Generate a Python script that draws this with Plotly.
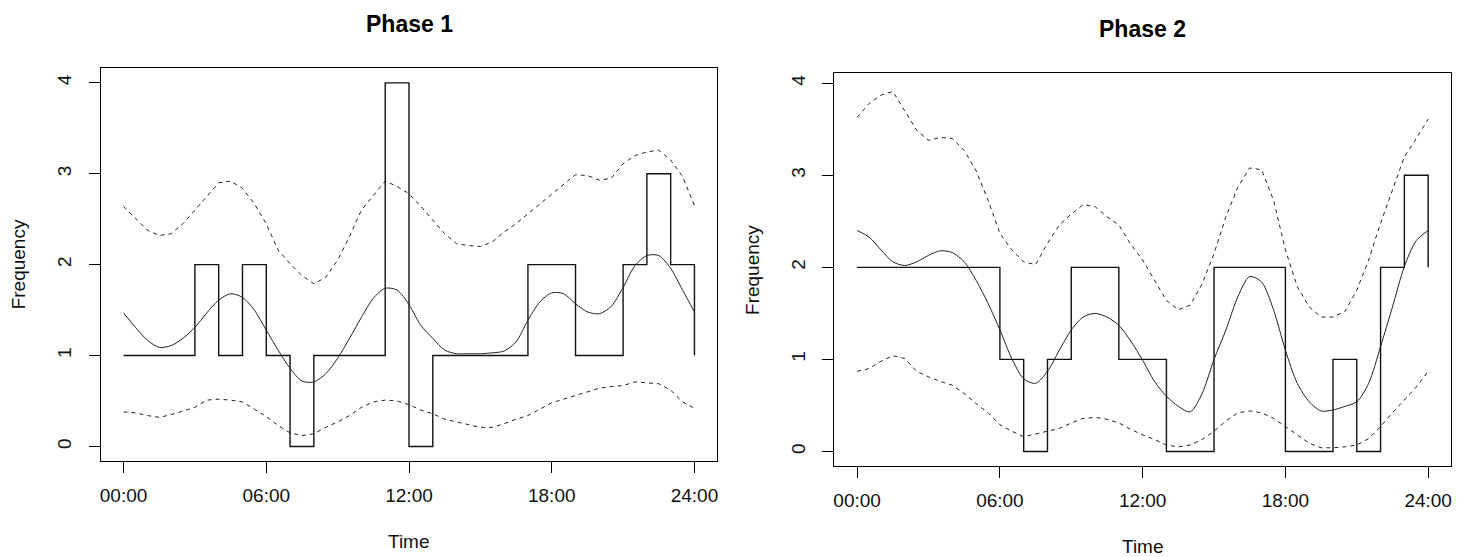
import plotly.graph_objects as go

# ---------------- data ----------------
hours_grid = [i * 0.5 for i in range(49)]          # 0, 0.5, ..., 24
bin_edges = list(range(25))                        # hourly step positions 0..24

tick_vals = [0, 6, 12, 18, 24]
tick_text = ["00:00", "06:00", "12:00", "18:00", "24:00"]
y_ticks = [0, 1, 2, 3, 4]

# Phase 1: hourly counts (last value repeats first hour, step plot)
p1_counts = [1, 1, 1, 2, 1, 2, 1, 0, 1, 1, 1, 4, 0, 1, 1, 1, 1, 2, 2, 1, 1, 2, 3, 2, 1]
p1_smooth = [1.47, 1.31, 1.17, 1.09, 1.11, 1.19, 1.31, 1.47, 1.61, 1.68, 1.64, 1.50,
             1.28, 1.06, 0.86, 0.72, 0.71, 0.80, 0.97, 1.19, 1.42, 1.63, 1.74, 1.72,
             1.56, 1.33, 1.19, 1.06, 1.02, 1.02, 1.02, 1.03, 1.05, 1.15, 1.39, 1.59,
             1.69, 1.68, 1.57, 1.48, 1.46, 1.54, 1.75, 1.99, 2.10, 2.10, 1.96, 1.72, 1.48]
p1_upper = [2.64, 2.51, 2.38, 2.32, 2.34, 2.45, 2.60, 2.76, 2.90, 2.92, 2.84, 2.67,
            2.45, 2.16, 2.01, 1.88, 1.79, 1.86, 2.05, 2.31, 2.60, 2.76, 2.92, 2.86,
            2.78, 2.64, 2.49, 2.34, 2.23, 2.21, 2.20, 2.25, 2.36, 2.45, 2.56, 2.67,
            2.78, 2.89, 2.99, 2.98, 2.93, 2.95, 3.11, 3.20, 3.24, 3.26, 3.15, 2.97, 2.65]
p1_lower = [0.38, 0.37, 0.34, 0.32, 0.35, 0.39, 0.43, 0.51, 0.52, 0.51, 0.49, 0.41,
            0.33, 0.23, 0.15, 0.12, 0.14, 0.21, 0.27, 0.34, 0.43, 0.49, 0.51, 0.50,
            0.46, 0.40, 0.36, 0.30, 0.27, 0.24, 0.21, 0.21, 0.25, 0.30, 0.34, 0.41,
            0.48, 0.52, 0.56, 0.60, 0.64, 0.66, 0.67, 0.71, 0.70, 0.69, 0.62, 0.49, 0.42]

# Phase 2
p2_counts = [2, 2, 2, 2, 2, 2, 1, 0, 1, 2, 2, 1, 1, 0, 0, 2, 2, 2, 0, 0, 1, 0, 2, 3, 2]
p2_smooth = [2.40, 2.33, 2.19, 2.06, 2.02, 2.06, 2.13, 2.18, 2.16, 2.06, 1.86, 1.61,
             1.32, 1.01, 0.79, 0.74, 0.87, 1.10, 1.32, 1.46, 1.50, 1.46, 1.37, 1.20,
             0.99, 0.76, 0.60, 0.49, 0.43, 0.63, 1.00, 1.32, 1.68, 1.90, 1.84, 1.54,
             1.10, 0.74, 0.54, 0.44, 0.45, 0.49, 0.54, 0.74, 1.14, 1.57, 2.01, 2.29, 2.40]
p2_upper = [3.63, 3.78, 3.87, 3.91, 3.70, 3.49, 3.38, 3.41, 3.40, 3.27, 3.05, 2.73,
            2.37, 2.19, 2.06, 2.03, 2.26, 2.46, 2.58, 2.68, 2.66, 2.55, 2.46, 2.25,
            2.08, 1.86, 1.64, 1.54, 1.59, 1.82, 2.15, 2.55, 2.87, 3.08, 3.06, 2.73,
            2.19, 1.79, 1.57, 1.46, 1.46, 1.52, 1.75, 2.08, 2.48, 2.84, 3.20, 3.40, 3.61]
p2_lower = [0.87, 0.90, 0.98, 1.04, 1.01, 0.87, 0.81, 0.76, 0.72, 0.63, 0.52, 0.42,
            0.29, 0.22, 0.16, 0.19, 0.22, 0.25, 0.31, 0.36, 0.37, 0.35, 0.31, 0.24,
            0.18, 0.13, 0.07, 0.05, 0.07, 0.13, 0.22, 0.33, 0.42, 0.44, 0.42, 0.36,
            0.27, 0.18, 0.09, 0.04, 0.04, 0.05, 0.07, 0.14, 0.27, 0.42, 0.56, 0.70, 0.87]

titles = ["Phase 1", "Phase 2"]
x_label = "Time"
y_label = "Frequency"

# ---------------- figure ----------------
# The page body has an 8px default margin; size the figure to the visible area.
OFF = 8
W, H = 1470 - OFF, 557 - OFF
FONT = "Liberation Sans, Arial, sans-serif"
fig = go.Figure()

panels = [
    dict(counts=p1_counts, smooth=p1_smooth, upper=p1_upper, lower=p1_lower,
         xa="x", ya="y"),
    dict(counts=p2_counts, smooth=p2_smooth, upper=p2_upper, lower=p2_lower,
         xa="x2", ya="y2"),
]

for p in panels:
    fig.add_trace(go.Scatter(x=bin_edges, y=p["counts"], mode="lines",
                             line=dict(color="#111111", width=1.4, shape="hv"),
                             xaxis=p["xa"], yaxis=p["ya"], hoverinfo="skip"))
    fig.add_trace(go.Scatter(x=hours_grid, y=p["smooth"], mode="lines",
                             line=dict(color="#222222", width=1, shape="spline", smoothing=0.8),
                             xaxis=p["xa"], yaxis=p["ya"]))
    for band in (p["upper"], p["lower"]):
        fig.add_trace(go.Scatter(x=hours_grid, y=band, mode="lines",
                                 line=dict(color="#222222", width=1, dash="4px,4px"),
                                 xaxis=p["xa"], yaxis=p["ya"]))

# pixel geometry (in the 1470x557 window) of the two plot boxes (left, right, top, bottom)
boxes = [(100.7, 717.3, 68.3, 461.0), (834.3, 1451.0, 73.3, 466.0)]
y_ranges = [[-0.16, 4.16], [-0.158, 4.108]]

axis_common = dict(showline=True, mirror=True, linecolor="black", linewidth=1,
                   ticks="outside", ticklen=11, tickwidth=1, tickcolor="black",
                   showgrid=False, zeroline=False, automargin=False,
                   tickfont=dict(family=FONT, size=19, color="#111111"))

layout = dict(width=W, height=H, margin=dict(l=0, r=0, t=0, b=0),
              paper_bgcolor="white", plot_bgcolor="white", showlegend=False,
              annotations=[])

def px(v):
    return v - OFF

for i, (l, r, t, b) in enumerate(boxes):
    l, r, t, b = px(l), px(r), px(t), px(b)
    sfx = "" if i == 0 else "2"
    layout["xaxis" + sfx] = dict(axis_common, domain=[l / W, r / W], range=[-0.96, 24.96],
                                 tickvals=tick_vals, ticktext=tick_text,
                                 anchor="y" + sfx, ticklabelstandoff=6)
    layout["yaxis" + sfx] = dict(axis_common, domain=[(H - b) / H, (H - t) / H],
                                 range=y_ranges[i], tickvals=y_ticks, tickangle=-90,
                                 anchor="x" + sfx, ticklabelstandoff=10)
    cx = (l + r) / 2 / W
    layout["annotations"] += [
        dict(text="<b>" + titles[i] + "</b>", x=cx, y=1 - (t - 44.5) / H, xref="paper", yref="paper",
             showarrow=False, xanchor="center", yanchor="middle",
             font=dict(family=FONT, size=23, color="black")),
        dict(text=x_label, x=cx, y=1 - (b + 80) / H, xref="paper", yref="paper",
             showarrow=False, xanchor="center", yanchor="middle",
             font=dict(family=FONT, size=19, color="#111111")),
        dict(text=y_label, x=(l - 82) / W, y=1 - (t + b) / 2 / H, xref="paper", yref="paper",
             showarrow=False, xanchor="center", yanchor="middle", textangle=-90,
             font=dict(family=FONT, size=19, color="#111111")),
    ]

fig.update_layout(**layout)
fig.write_html("out.html")
